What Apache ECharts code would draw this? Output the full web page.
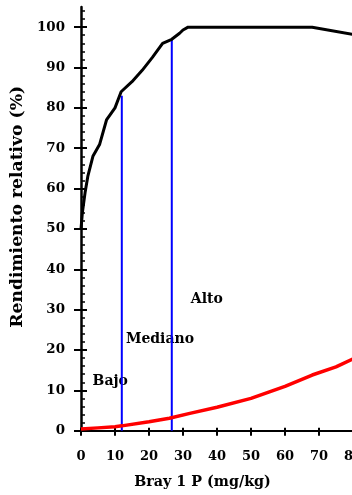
<!DOCTYPE html>
<html>
<head>
<meta charset="utf-8">
<script src="https://cdn.jsdelivr.net/npm/echarts@6/dist/echarts.min.js"></script>
<style>
  html, body { margin: 0; padding: 0; background: #fff; }
  #chart { width: 352px; height: 495px; }
</style>
</head>
<body>
<div id="chart"></div>
<script>
// Relative yield response to Bray 1 P
const rendimiento = [
  [0, 50], [0.4, 54], [1.2, 59], [2, 63], [3.5, 68], [5.5, 71], [7.5, 77],
  [10, 80], [11.8, 84], [15, 86.5], [18, 89.3], [21, 92.5], [24, 96],
  [26.7, 97], [29, 98.5], [30, 99.3], [31.5, 100], [68, 100], [80, 98.2]
];
const rojo = [
  [0, 0.4], [5, 0.7], [10, 1.0], [12, 1.2], [20, 2.2], [26, 3.1], [32, 4.3],
  [40, 5.8], [50, 8.0], [60, 11.0], [68, 13.8], [75, 15.8], [80, 17.8]
];
// Class thresholds (x) and the height each boundary line reaches
const umbrales = [12, 26.7];
const alturas = [83, 97];
// Class names and where they are written
const clases = ['Bajo', 'Mediano', 'Alto'];
const clasesX = [3.4, 13.2, 32.3];
const clasesY = [12.3, 22.7, 32.6];
// Axis ticks
const yTicks = [0, 10, 20, 30, 40, 50, 60, 70, 80, 90, 100];
const xTicks = [0, 10, 20, 30, 40, 50, 60, 70, 80];

const yMinor = [];
for (let v = 2; v < 105; v += 2) if (v % 10 !== 0) yMinor.push(v);

const FONT = 'DejaVu Serif';
const txt = { fontFamily: FONT, fontWeight: 'bold', color: '#000' };

const yBase = { type: 'value', min: 0, max: 105, interval: 10, position: 'left', splitLine: { show: false } };
const xBase = { type: 'value', min: 0, max: 80, interval: 10, position: 'bottom', splitLine: { show: false } };

const chart = echarts.init(document.getElementById('chart'), null, { renderer: 'canvas' });
chart.setOption({
  animation: false,
  backgroundColor: '#fff',
  grid: { left: 81, right: -1, top: 7, bottom: 64.3, containLabel: false, outerBoundsMode: 'none' },
  xAxis: [
    Object.assign({}, xBase, {
      axisLine: { show: true, lineStyle: { color: '#000', width: 2 } },
      axisTick: { show: true, inside: false, length: 5, customValues: xTicks, lineStyle: { color: '#000', width: 2 } },
      axisLabel: Object.assign({ fontSize: 13, margin: 19, customValues: xTicks }, txt),
      name: 'Bray 1 P (mg/kg)',
      nameLocation: 'middle',
      nameGap: 45,
      nameTextStyle: Object.assign({ fontSize: 14.3, padding: [0, 29, 0, 0] }, txt)
    }),
    Object.assign({}, xBase, {
      axisLine: { show: false },
      axisTick: { show: true, inside: true, length: 3, customValues: xTicks, lineStyle: { color: '#000', width: 2 } },
      axisLabel: { show: false }
    })
  ],
  yAxis: [
    Object.assign({}, yBase, {
      axisLine: { show: true, lineStyle: { color: '#000', width: 2.5 } },
      axisTick: { show: true, inside: false, length: 7, customValues: yTicks, lineStyle: { color: '#000', width: 2 } },
      axisLabel: Object.assign({ fontSize: 13.4, margin: 16, customValues: yTicks }, txt),
      name: 'Rendimiento relativo (%)',
      nameLocation: 'middle',
      nameGap: 47,
      nameRotate: 90,
      nameTextStyle: Object.assign({ fontSize: 17.2, padding: [0, 0, 0, 24] }, txt)
    }),
    Object.assign({}, yBase, {
      axisLine: { show: false },
      axisTick: { show: true, inside: true, length: 6, customValues: yTicks, lineStyle: { color: '#000', width: 2 } },
      axisLabel: { show: false }
    }),
    Object.assign({}, yBase, {
      axisLine: { show: false },
      axisTick: { show: true, inside: true, length: 4, customValues: yMinor, lineStyle: { color: '#000', width: 1.5 } },
      axisLabel: { show: false }
    })
  ],
  series: [
    {
      name: 'umbral 1', type: 'line', symbol: 'none', silent: true,
      data: [[umbrales[0], 0], [umbrales[0], alturas[0]]],
      lineStyle: { color: '#0000ff', width: 2 }
    },
    {
      name: 'umbral 2', type: 'line', symbol: 'none', silent: true,
      data: [[umbrales[1], 0], [umbrales[1], alturas[1]]],
      lineStyle: { color: '#0000ff', width: 2 }
    },
    {
      name: 'rendimiento', type: 'line', symbol: 'none', silent: true,
      data: rendimiento,
      lineStyle: { color: '#000', width: 3 }
    },
    {
      name: 'rojo', type: 'line', symbol: 'none', silent: true,
      data: rojo,
      lineStyle: { color: '#ff0000', width: 3.5 }
    },
    {
      name: 'clases', type: 'scatter', symbolSize: 0, silent: true,
      itemStyle: { color: '#000', opacity: 1 },
      data: clases.map((c, i) => ({ value: [clasesX[i], clasesY[i]], name: c })),
      label: Object.assign({
        show: true, position: 'right', distance: 0, fontSize: 14, opacity: 1,
        textBorderWidth: 0, formatter: p => p.name
      }, txt)
    }
  ]
});
</script>
</body>
</html>
